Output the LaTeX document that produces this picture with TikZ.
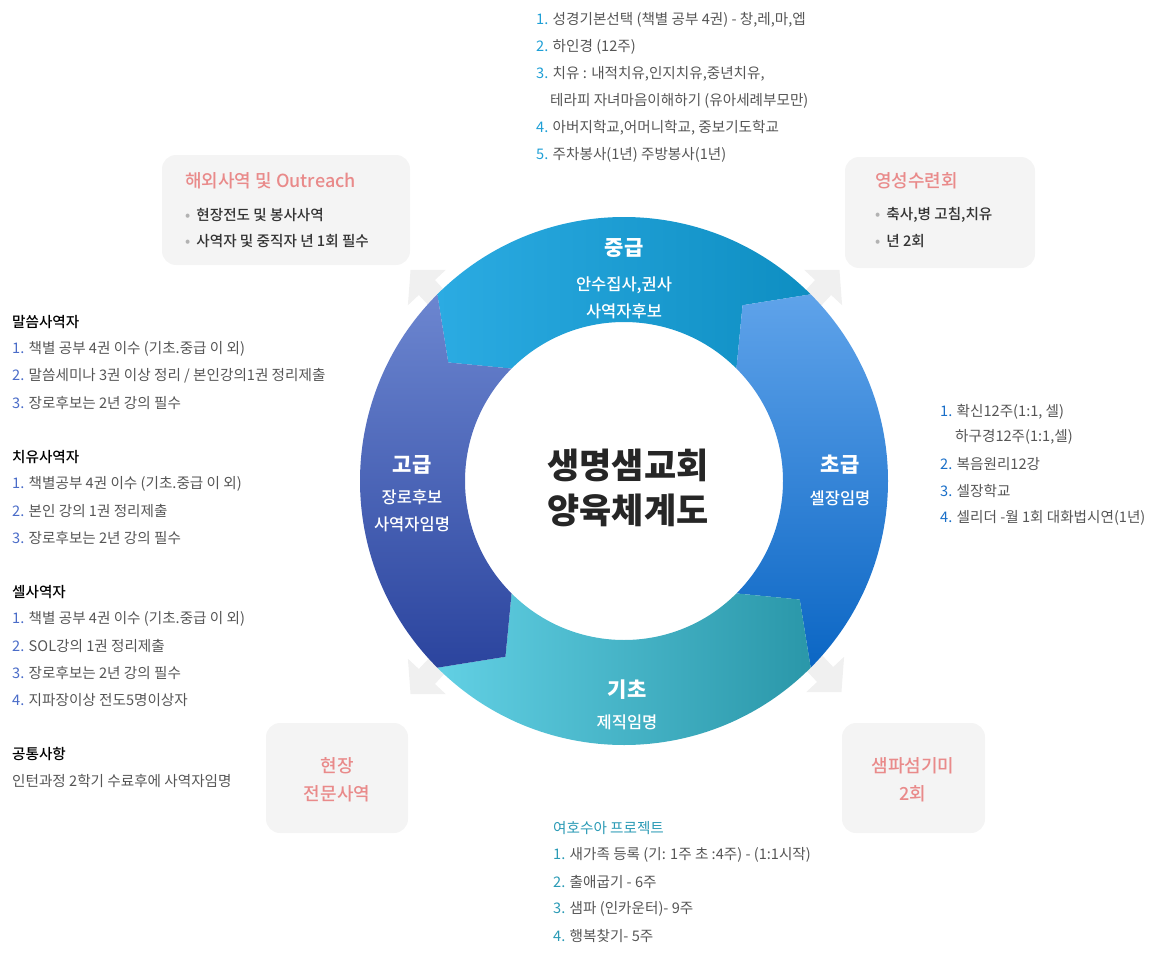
\documentclass[tikz,border=0pt]{standalone}
\usepackage{fontspec}
\setmainfont{Noto Sans CJK KR}
\newfontfamily\heavy{Noto Sans CJK KR Black}
\newfontfamily\medf{Noto Sans CJK KR Medium}
\usetikzlibrary{calc}
\definecolor{txt}{HTML}{555555}
\definecolor{pinkt}{HTML}{E98A8A}
\definecolor{boxbg}{HTML}{F4F4F4}
\definecolor{numtop}{HTML}{1E9FD6}
\definecolor{numleft}{HTML}{4A6CC8}
\definecolor{numright}{HTML}{1A6FC8}
\definecolor{numbot}{HTML}{2A9AB5}
\definecolor{ma}{HTML}{2BABE2}\definecolor{mb}{HTML}{0E8EC2}
\definecolor{ba}{HTML}{5FA3EA}\definecolor{bb}{HTML}{0B66C4}
\definecolor{ka}{HTML}{62D0E4}\definecolor{kb}{HTML}{2A97A9}
\definecolor{ga}{HTML}{6C86D0}\definecolor{gb}{HTML}{2B449E}
\tikzset{
 ln/.style={anchor=west,inner sep=0pt,font=\fontsize{14.6}{16}\selectfont,text=txt},
 hd/.style={anchor=west,inner sep=0pt,font=\medf\fontsize{14.6}{16}\selectfont,text=black},
 sidebox/.style={fill=boxbg,rounded corners=14pt,draw=none},
 boxttl/.style={inner sep=0pt,font=\medf\fontsize{18}{20}\selectfont,text=pinkt,align=center},
 seglbl/.style={inner sep=0pt,text=white,font=\heavy\fontsize{21}{22}\selectfont},
 segsub/.style={inner sep=0pt,text=white,font=\medf\fontsize{16.5}{27}\selectfont,align=center},
 carrow/.style={fill=black!6,draw=none}
}
\newcommand{\segm}[3]{%
 \shade[#3] (#1:264) arc[start angle=#1,end angle=#2,radius=264] -- (#2+11:212) -- (#2:159)
   arc[start angle=#2,end angle=#1,radius=159] -- (#1+11:212) -- cycle;}
\newcommand{\cornerarrow}[3]{%
 \fill[carrow,shift={(#1,#2)},rotate=#3] (0,-11) -- (28,-11) -- (28,-26) -- (52,0) -- (28,26) -- (28,11) -- (0,11) -- cycle;}
\begin{document}
\begin{tikzpicture}[x=1pt,y=1pt]
\useasboundingbox (0,0) rectangle (1171,-958);
\draw[sidebox] (162,-155) rectangle (410,-265);
\draw[sidebox] (845,-157) rectangle (1035,-268);
\draw[sidebox] (266,-723) rectangle (408,-833);
\draw[sidebox] (842,-723) rectangle (985,-833);
\cornerarrow{446}{-308}{133}
\cornerarrow{804}{-308}{47}
\cornerarrow{446}{-656}{-133}
\cornerarrow{806}{-654}{-47}
\begin{scope}[shift={(624,-481)}]
\segm{135}{45}{left color=ma,right color=mb}
\segm{45}{-45}{top color=ba,bottom color=bb}
\segm{-45}{-135}{left color=ka,right color=kb}
\segm{-135}{-225}{top color=ga,bottom color=gb}
\end{scope}
\node[seglbl] (mid) at (624,-248) {중급};
\node[segsub] (midt) at (624,-298) {안수집사,권사\\사역자후보};
\node[seglbl] (beg) at (840,-465) {초급};
\node[segsub] (begt) at (840,-498) {셀장임명};
\node[seglbl] (adv) at (412,-465) {고급};
\node[segsub] (advt) at (412,-511) {장로후보\\사역자임명};
\node[seglbl] (bas) at (627,-690) {기초};
\node[segsub] (bast) at (627,-722) {제직임명};
\node[inner sep=0pt,align=center,text=black!85,font=\heavy\fontsize{35}{45}\selectfont] (title) at (628,-488) {생명샘교회\\양육체계도};
\node[ln] (t1) at (536,-20) {\textcolor{numtop}{1.} 성경기본선택 (책별 공부 4권) - 창,레,마,엡};
\node[ln] (t2) at (536,-47) {\textcolor{numtop}{2.} 하인경 (12주)};
\node[ln] (t3) at (536,-74) {\textcolor{numtop}{3.} 치유 : 내적치유,인지치유,중년치유,};
\node[ln] (t3b) at (550,-101) {테라피 자녀마음이해하기 (유아세례부모만)};
\node[ln] (t4) at (536,-128) {\textcolor{numtop}{4.} 아버지학교,어머니학교, 중보기도학교};
\node[ln] (t5) at (536,-155) {\textcolor{numtop}{5.} 주차봉사(1년) 주방봉사(1년)};
\node[boxttl,anchor=west] (ot) at (185,-181) {해외사역 및 Outreach};
\node[ln,text=black!80,font=\medf\fontsize{14.6}{16}\selectfont] (o1) at (185,-215) {\textcolor{black!30}{\textbullet}\hspace{6pt}현장전도 및 봉사사역};
\node[ln,text=black!80,font=\medf\fontsize{14.6}{16}\selectfont] (o2) at (185,-241) {\textcolor{black!30}{\textbullet}\hspace{6pt}사역자 및 중직자 년 1회 필수};
\node[boxttl,anchor=west] (rt) at (875,-181) {영성수련회};
\node[ln,text=black!80,font=\medf\fontsize{14.6}{16}\selectfont] (r1) at (875,-215) {\textcolor{black!30}{\textbullet}\hspace{6pt}축사,병 고침,치유};
\node[ln,text=black!80,font=\medf\fontsize{14.6}{16}\selectfont] (r2) at (875,-241) {\textcolor{black!30}{\textbullet}\hspace{6pt}년 2회};
\node[boxttl,font=\medf\fontsize{18}{28}\selectfont] (ft) at (337,-780) {현장\\전문사역};
\node[boxttl,font=\medf\fontsize{18}{28}\selectfont] (st) at (913,-780) {샘파섬기미\\2회};
\node[hd] (h1) at (12,-322) {말씀사역자};
\node[ln] (a1) at (12,-349) {\textcolor{numleft}{1.} 책별 공부 4권 이수 (기초.중급 이 외)};
\node[ln] (a2) at (12,-376) {\textcolor{numleft}{2.} 말씀세미나 3권 이상 정리 / 본인강의1권 정리제출};
\node[ln] (a3) at (12,-403) {\textcolor{numleft}{3.} 장로후보는 2년 강의 필수};
\node[hd] (h2) at (12,-457) {치유사역자};
\node[ln] (b1) at (12,-484) {\textcolor{numleft}{1.} 책별공부 4권 이수 (기초.중급 이 외)};
\node[ln] (b2) at (12,-511) {\textcolor{numleft}{2.} 본인 강의 1권 정리제출};
\node[ln] (b3) at (12,-538) {\textcolor{numleft}{3.} 장로후보는 2년 강의 필수};
\node[hd] (h3) at (12,-592) {셀사역자};
\node[ln] (c1) at (12,-619) {\textcolor{numleft}{1.} 책별 공부 4권 이수 (기초.중급 이 외)};
\node[ln] (c2) at (12,-646) {\textcolor{numleft}{2.} SOL강의 1권 정리제출};
\node[ln] (c3) at (12,-673) {\textcolor{numleft}{3.} 장로후보는 2년 강의 필수};
\node[ln] (c4) at (12,-700) {\textcolor{numleft}{4.} 지파장이상 전도5명이상자};
\node[hd] (h4) at (12,-754) {공통사항};
\node[ln] (d1) at (12,-781) {인턴과정 2학기 수료후에 사역자임명};
\node[ln] (e1) at (940,-412) {\textcolor{numright}{1.} 확신12주(1:1, 셀)};
\node[ln] (e1b) at (955,-437) {하구경12주(1:1,셀)};
\node[ln] (e2) at (940,-464) {\textcolor{numright}{2.} 복음원리12강};
\node[ln] (e3) at (940,-491) {\textcolor{numright}{3.} 셀장학교};
\node[ln] (e4) at (940,-518) {\textcolor{numright}{4.} 셀리더 -월 1회 대화법시연(1년)};
\node[ln,text=numbot] (jh) at (553,-828) {여호수아 프로젝트};
\node[ln] (j1) at (553,-855) {\textcolor{numbot}{1.} 새가족 등록 (기: 1주 초 :4주) - (1:1시작)};
\node[ln] (j2) at (553,-882) {\textcolor{numbot}{2.} 출애굽기 - 6주};
\node[ln] (j3) at (553,-909) {\textcolor{numbot}{3.} 샘파 (인카운터)- 9주};
\node[ln] (j4) at (553,-936) {\textcolor{numbot}{4.} 행복찾기- 5주};
\end{tikzpicture}
\end{document}
